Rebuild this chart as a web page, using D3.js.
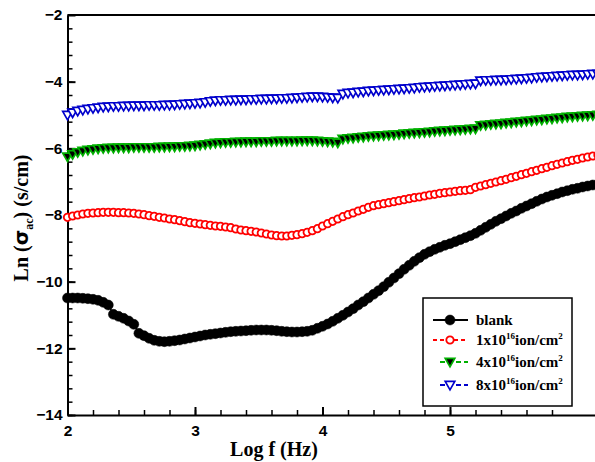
<!DOCTYPE html>
<html>
<head>
<meta charset="utf-8">
<script src="https://cdn.jsdelivr.net/npm/d3@7"></script>
<style>
  body { margin: 0; background: #fff; }
  svg { display: block; }
  .tick text { font-family: "Liberation Sans", Arial, sans-serif; font-weight: bold; font-size: 15.5px; fill: #000; }
  .axis path, .axis line { stroke: #000; stroke-width: 2px; }
  .minor line { stroke-width: 1.5px; }
</style>
</head>
<body>
<svg width="595" height="462"></svg>
<script>
// log f (Hz) values
var logF = [
  2.00,2.04,2.08,2.12,2.16,2.20,2.24,2.28,2.32,2.36,
  2.40,2.44,2.48,2.52,2.56,2.60,2.64,2.68,2.72,2.76,
  2.80,2.84,2.88,2.92,2.96,3.00,3.04,3.08,3.12,3.16,
  3.20,3.24,3.28,3.32,3.36,3.40,3.44,3.48,3.52,3.56,
  3.60,3.64,3.68,3.72,3.76,3.80,3.84,3.88,3.92,3.96,
  4.00,4.04,4.08,4.12,4.16,4.20,4.24,4.28,4.32,4.36,
  4.40,4.44,4.48,4.52,4.56,4.60,4.64,4.68,4.72,4.76,
  4.80,4.84,4.88,4.92,4.96,5.00,5.04,5.08,5.12,5.16,
  5.20,5.24,5.28,5.32,5.36,5.40,5.44,5.48,5.52,5.56,
  5.60,5.64,5.68,5.72,5.76,5.80,5.84,5.88,5.92,5.96,
  6.00,6.04,6.08,6.12,6.16
];

var blank = [
  -10.49,-10.49,-10.49,-10.50,-10.51,-10.53,-10.56,-10.62,-10.70,-10.98,
  -11.04,-11.10,-11.18,-11.28,-11.55,-11.62,-11.70,-11.76,-11.79,-11.80,
  -11.79,-11.77,-11.75,-11.72,-11.69,-11.66,-11.63,-11.60,-11.58,-11.56,
  -11.54,-11.52,-11.50,-11.49,-11.48,-11.47,-11.46,-11.45,-11.45,-11.45,
  -11.46,-11.47,-11.49,-11.50,-11.51,-11.51,-11.50,-11.49,-11.46,-11.40,
  -11.34,-11.27,-11.19,-11.10,-11.01,-10.91,-10.81,-10.70,-10.60,-10.49,
  -10.38,-10.27,-10.15,-10.02,-9.89,-9.76,-9.63,-9.51,-9.39,-9.28,
  -9.18,-9.10,-9.03,-8.97,-8.91,-8.86,-8.80,-8.74,-8.68,-8.62,
  -8.55,-8.46,-8.37,-8.28,-8.19,-8.11,-8.03,-7.95,-7.88,-7.80,
  -7.73,-7.66,-7.59,-7.52,-7.46,-7.41,-7.36,-7.31,-7.27,-7.23,
  -7.20,-7.16,-7.13,-7.10,-7.08
];

var dose1 = [
  -8.07,-8.03,-8.00,-7.97,-7.95,-7.94,-7.93,-7.92,-7.92,-7.92,
  -7.93,-7.93,-7.94,-7.95,-7.97,-7.99,-8.02,-8.04,-8.07,-8.09,
  -8.12,-8.14,-8.17,-8.20,-8.23,-8.25,-8.27,-8.29,-8.31,-8.33,
  -8.34,-8.36,-8.38,-8.42,-8.45,-8.47,-8.49,-8.51,-8.54,-8.57,
  -8.60,-8.62,-8.63,-8.63,-8.61,-8.59,-8.56,-8.52,-8.47,-8.41,
  -8.33,-8.26,-8.19,-8.12,-8.05,-7.99,-7.94,-7.88,-7.83,-7.77,
  -7.72,-7.69,-7.66,-7.63,-7.60,-7.57,-7.54,-7.51,-7.48,-7.46,
  -7.43,-7.40,-7.38,-7.35,-7.33,-7.31,-7.29,-7.27,-7.26,-7.24,
  -7.17,-7.13,-7.09,-7.05,-7.01,-6.97,-6.93,-6.88,-6.84,-6.79,
  -6.75,-6.70,-6.66,-6.61,-6.57,-6.52,-6.48,-6.44,-6.40,-6.36,
  -6.33,-6.29,-6.26,-6.23,-6.20
];

var dose4 = [
  -6.25,-6.18,-6.12,-6.08,-6.05,-6.03,-6.01,-6.00,-5.99,-5.99,
  -5.98,-5.98,-5.98,-5.97,-5.97,-5.97,-5.97,-5.97,-5.96,-5.96,
  -5.95,-5.95,-5.94,-5.94,-5.93,-5.92,-5.90,-5.88,-5.86,-5.84,
  -5.83,-5.82,-5.82,-5.81,-5.81,-5.80,-5.80,-5.80,-5.79,-5.79,
  -5.79,-5.78,-5.78,-5.78,-5.78,-5.78,-5.77,-5.77,-5.77,-5.78,
  -5.79,-5.80,-5.81,-5.83,-5.72,-5.70,-5.69,-5.67,-5.66,-5.64,
  -5.63,-5.62,-5.61,-5.60,-5.59,-5.58,-5.56,-5.55,-5.54,-5.53,
  -5.52,-5.51,-5.49,-5.48,-5.47,-5.46,-5.45,-5.44,-5.43,-5.42,
  -5.41,-5.31,-5.30,-5.28,-5.27,-5.26,-5.24,-5.23,-5.21,-5.20,
  -5.18,-5.17,-5.15,-5.14,-5.12,-5.11,-5.09,-5.08,-5.06,-5.05,
  -5.04,-5.03,-5.02,-5.01,-5.00
];

var dose8 = [
  -5.00,-4.93,-4.88,-4.85,-4.82,-4.80,-4.78,-4.76,-4.75,-4.74,
  -4.74,-4.73,-4.73,-4.72,-4.72,-4.72,-4.71,-4.71,-4.71,-4.70,
  -4.70,-4.69,-4.68,-4.67,-4.66,-4.65,-4.64,-4.62,-4.59,-4.57,
  -4.56,-4.56,-4.55,-4.55,-4.54,-4.54,-4.53,-4.53,-4.52,-4.52,
  -4.51,-4.51,-4.50,-4.50,-4.49,-4.48,-4.47,-4.46,-4.45,-4.45,
  -4.46,-4.47,-4.48,-4.49,-4.37,-4.34,-4.33,-4.31,-4.30,-4.28,
  -4.27,-4.26,-4.25,-4.24,-4.23,-4.22,-4.21,-4.20,-4.19,-4.17,
  -4.16,-4.15,-4.14,-4.13,-4.12,-4.11,-4.10,-4.09,-4.08,-4.07,
  -4.06,-3.97,-3.96,-3.96,-3.95,-3.95,-3.94,-3.93,-3.92,-3.91,
  -3.90,-3.89,-3.87,-3.86,-3.85,-3.84,-3.83,-3.82,-3.81,-3.80,
  -3.80,-3.79,-3.78,-3.77,-3.77
];

var xTicks = [2, 3, 4, 5];
var yTicks = [-14, -12, -10, -8, -6, -4, -2];

// Setup
var svg = d3.select("svg"),
    margin = {top: 15, left: 67.5},
    plotH = 400,
    plotW = 535.5; // 4.2 decades, runs past the right edge like the original

var x = d3.scaleLinear().domain([2, 6.2]).range([0, plotW]),
    y = d3.scaleLinear().domain([-14, -2]).range([plotH, 0]);

var g = svg.append("g")
    .attr("transform", "translate(" + margin.left + "," + margin.top + ")");

// minor ticks first
g.append("g")
    .attr("class", "axis minor")
    .attr("transform", "translate(0," + plotH + ")")
    .call(d3.axisBottom(x).tickValues(d3.range(2, 5.9, 0.2)).tickSize(-5).tickFormat(""))
    .select(".domain").remove();
g.append("g")
    .attr("class", "axis minor")
    .call(d3.axisLeft(y).tickValues(d3.range(-14, -2, 0.4)).tickSize(-5).tickFormat(""))
    .select(".domain").remove();

// major axes
g.append("g")
    .attr("class", "axis axis--x")
    .attr("transform", "translate(0," + plotH + ")")
    .call(d3.axisBottom(x).tickValues(xTicks).tickSize(-8).tickSizeOuter(0).tickPadding(10).tickFormat(d3.format("d")));

g.append("g")
    .attr("class", "axis axis--y")
    .call(d3.axisLeft(y).tickValues(yTicks).tickSize(-8).tickSizeOuter(0).tickPadding(5).tickFormat(d3.format("d")));

// top frame line
g.append("line")
    .attr("x1", 0).attr("x2", plotW)
    .attr("y1", 0).attr("y2", 0)
    .attr("stroke", "#000").attr("stroke-width", 2);

// series
var series = [
  {name: "blank", vals: blank, color: "#000", dash: null, shape: "circle", fill: "#000", r: 5},
  {name: "1x10", vals: dose1, color: "#ff0000", dash: "4,3", shape: "circle", fill: "#fff", r: 3.7},
  {name: "4x10", vals: dose4, color: "#00b000", dash: "5,3", shape: "tri", fill: "#000", r: 4.8},
  {name: "8x10", vals: dose8, color: "#0000cc", dash: "5,3", shape: "tri", fill: "#fff", r: 4.8}
];

var line = d3.line()
    .x(function(d) { return x(d[0]); })
    .y(function(d) { return y(d[1]); });

function triPath(r) {
  // downward triangle
  return "M" + (-r) + "," + (-r * 0.75) + "L" + r + "," + (-r * 0.75) + "L0," + (r * 1.0) + "Z";
}

function drawMarker(sel, s) {
  if (s.shape == "circle") {
    sel.append("circle")
        .attr("r", s.r)
        .attr("fill", s.fill)
        .attr("stroke", s.color)
        .attr("stroke-width", s.fill == "#000" ? 0.5 : 1.8);
  } else {
    sel.append("path")
        .attr("d", triPath(s.r))
        .attr("fill", s.fill)
        .attr("stroke", s.color)
        .attr("stroke-width", 1.7)
        .attr("stroke-linejoin", "miter");
  }
}

series.forEach(function(s) {
  var pts = logF.map(function(f, i) { return [f, s.vals[i]]; });
  g.append("path")
      .datum(pts)
      .attr("fill", "none")
      .attr("stroke", s.color)
      .attr("stroke-width", 1.5)
      .attr("stroke-dasharray", s.dash)
      .attr("d", line);
  g.selectAll(".m-" + s.shape + s.name.replace(/\W/g, ""))
      .data(pts)
      .enter().append("g")
      .attr("transform", function(d) { return "translate(" + x(d[0]) + "," + y(d[1]) + ")"; })
      .each(function() { drawMarker(d3.select(this), s); });
});

// axis titles
svg.append("text")
    .attr("x", 274).attr("y", 456)
    .attr("text-anchor", "middle")
    .style("font-family", "'Liberation Serif', 'Times New Roman', serif")
    .style("font-weight", "bold")
    .style("font-size", "20px")
    .text("Log f (Hz)");

var yl = svg.append("text")
    .attr("transform", "translate(28,218) rotate(-90)")
    .attr("text-anchor", "middle")
    .style("font-family", "'Liberation Serif', 'Times New Roman', serif")
    .style("font-weight", "bold")
    .style("font-size", "20px");
yl.append("tspan").text("Ln (");
yl.append("tspan").style("font-family", "'DejaVu Sans', sans-serif").text("σ");
yl.append("tspan").attr("dy", 5).style("font-size", "12px").text("ac");
yl.append("tspan").attr("dy", -5).text(") (s/cm)");

// legend
var leg = svg.append("g").attr("transform", "translate(423,298)");
leg.append("rect")
    .attr("width", 149).attr("height", 108)
    .attr("fill", "#fff").attr("stroke", "#000").attr("stroke-width", 1.5);

var legLabels = ["blank", "1x10", "4x10", "8x10"];
var legRows = [22, 42, 64, 87];

series.forEach(function(s, i) {
  var row = leg.append("g").attr("transform", "translate(0," + legRows[i] + ")");
  row.append("line")
      .attr("x1", i < 2 ? 10 : 17).attr("x2", 45)
      .attr("stroke", s.color).attr("stroke-width", 2)
      .attr("stroke-dasharray", s.dash);
  var m = row.append("g").attr("transform", "translate(27,0)");
  drawMarker(m, s);
  var t = row.append("text")
      .attr("x", 53).attr("y", 5)
      .style("font-family", "'Liberation Serif', 'Times New Roman', serif")
      .style("font-weight", "bold")
      .style("font-size", "15px");
  t.append("tspan").text(legLabels[i]);
  if (i > 0) {
    t.append("tspan").attr("dy", -6).style("font-size", "9px").text("16");
    t.append("tspan").attr("dy", 6).text("ion/cm");
    t.append("tspan").attr("dy", -6).style("font-size", "9px").text("2");
  }
});
</script>
</body>
</html>
